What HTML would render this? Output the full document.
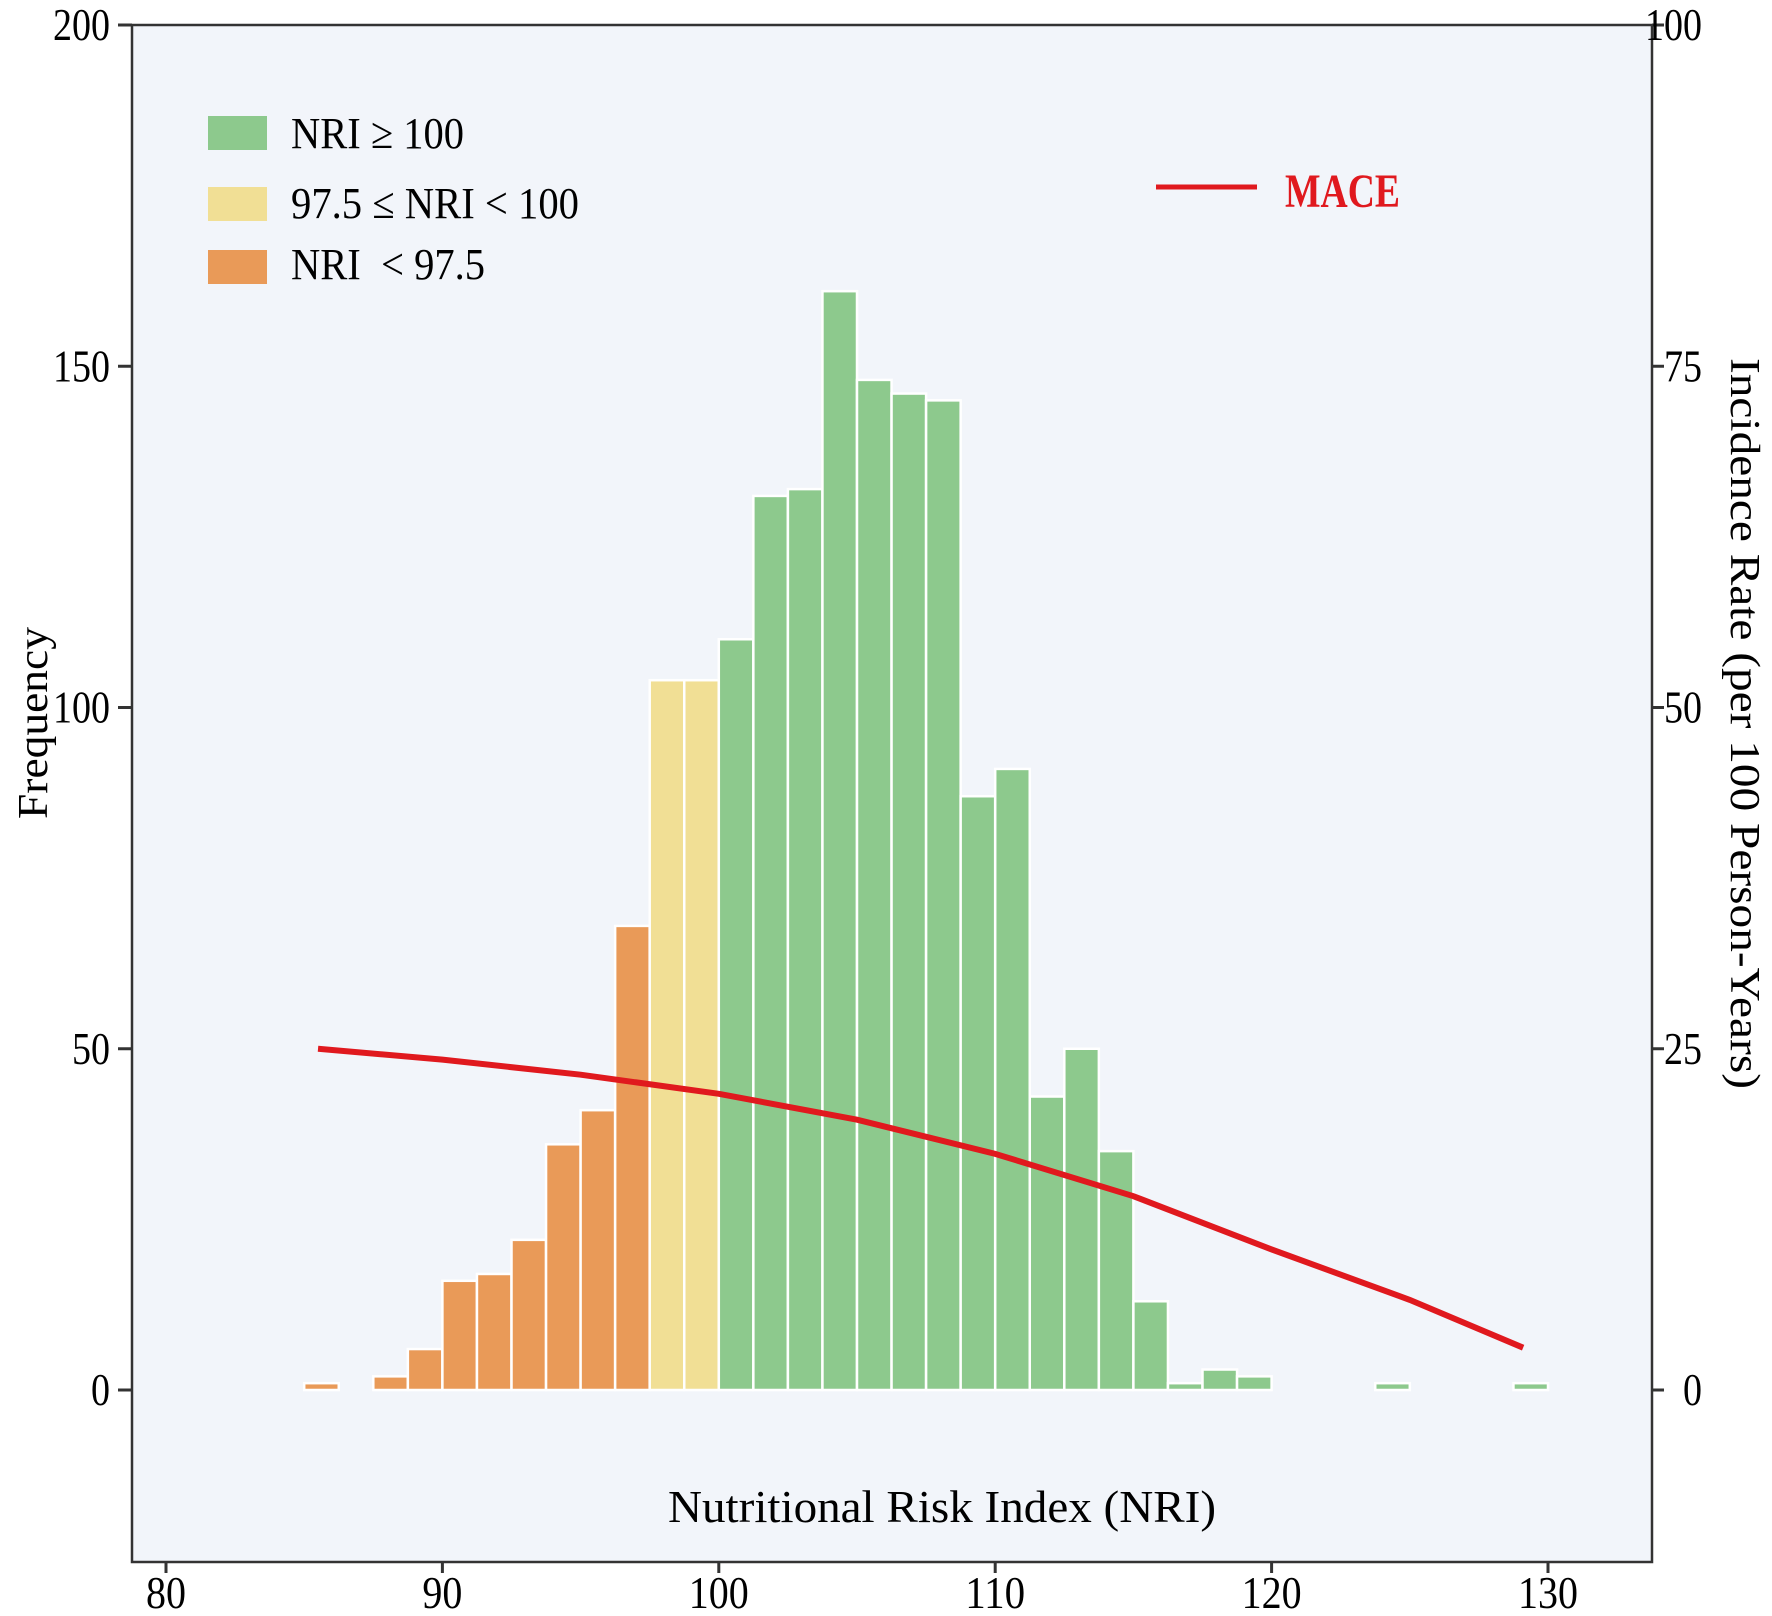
<!DOCTYPE html>
<html><head><meta charset="utf-8"><style>
html,body{margin:0;padding:0;background:#fff;}
svg{display:block;font-family:"Liberation Serif",serif;}
</style></head><body>
<svg id="chart" width="1772" height="1616" viewBox="0 0 1772 1616" xmlns="http://www.w3.org/2000/svg">
<rect x="132" y="25" width="1520" height="1537" fill="#f2f5fa"/>
<g id="bars"></g>
<g id="line"></g>
<g id="axes"></g>
<g>
<rect x="208" y="116" width="59" height="34" fill="#8dc98d"/>
<text x="291" y="148" font-size="44" textLength="173" lengthAdjust="spacingAndGlyphs">NRI ≥ 100</text>
<rect x="208" y="187" width="59" height="34" fill="#f1df95"/>
<text x="291" y="218" font-size="44" textLength="288" lengthAdjust="spacingAndGlyphs">97.5 ≤ NRI &lt; 100</text>
<rect x="208" y="250" width="59" height="34" fill="#e99a58"/>
<text x="291" y="279" font-size="44" textLength="194" lengthAdjust="spacingAndGlyphs">NRI&#160;&#160;&lt; 97.5</text>
<line x1="1156" y1="187" x2="1257" y2="187" stroke="#e0191e" stroke-width="5"/>
<text x="1285" y="207" font-size="48" font-weight="bold" fill="#e0191e" textLength="115" lengthAdjust="spacingAndGlyphs">MACE</text>
</g>
<text x="668" y="1522" font-size="46" textLength="548" lengthAdjust="spacingAndGlyphs">Nutritional Risk Index (NRI)</text>
<text transform="translate(47,819) rotate(-90)" font-size="42" textLength="192" lengthAdjust="spacingAndGlyphs">Frequency</text>
<text transform="translate(1731,358) rotate(90)" font-size="42" textLength="731" lengthAdjust="spacingAndGlyphs">Incidence Rate (per 100 Person-Years)</text>
</svg>
<script>
const binStarts = [85,86.25,87.5,88.75,90,91.25,92.5,93.75,95,96.25,97.5,98.75,100,101.25,102.5,103.75,105,106.25,107.5,108.75,110,111.25,112.5,113.75,115,116.25,117.5,118.75,120,121.25,122.5,123.75,125,126.25,127.5,128.75];
const counts = [1,0,2,6,16,17,22,36,41,68,104,104,110,131,132,161,148,146,145,87,91,43,50,35,13,1,3,2,0,0,0,1,0,0,0,1];
const lineX = [85.5,90,95,100,105,110,115,120,125,129.1];
const lineY = [25,24.2,23.1,21.7,19.8,17.3,14.2,10.3,6.6,3.1];
const xTicks = [80,90,100,110,120,130];
const yTicksLeft = [0,50,100,150,200];
const yTicksRight = [0,25,50,75,100];
const binWidth = 1.25;
const NS = "http://www.w3.org/2000/svg";
const xs = v => 166 + (v - 80) * 27.64;
const yl = v => 1390 - v * 6.825;
const yr = v => 1390 - v * 13.65;
function mk(tag, attrs, parent){const e=document.createElementNS(NS,tag);for(const k in attrs)e.setAttribute(k,attrs[k]);parent.appendChild(e);return e;}
const gb=document.getElementById('bars');
binStarts.forEach((b,i)=>{
  const col = b < 97.5 ? '#e99a58' : (b < 100 ? '#f1df95' : '#8dc98d');
  const r = mk('rect',{x:xs(b),y:yl(counts[i]),width:xs(b+binWidth)-xs(b),height:Math.max(0,yl(0)-yl(counts[i])),fill:col,stroke:'#ffffff','stroke-width':2.5},gb);
  
  
});
const gl=document.getElementById('line');
const p=mk('polyline',{points:lineX.map((x,i)=>xs(x)+','+yr(lineY[i])).join(' '),fill:'none',stroke:'#e0191e','stroke-width':6},gl);


const ga=document.getElementById('axes');
const fr=mk('rect',{x:132,y:25,width:1520,height:1537,fill:'none',stroke:'#333','stroke-width':2.5},ga);


xTicks.forEach(t=>{
  const l=mk('line',{x1:xs(t),y1:1562,x2:xs(t),y2:1573,stroke:'#333','stroke-width':3},ga);
  
  
  const s=String(t);
  const tx=mk('text',{x:xs(t),y:1608,'text-anchor':'middle','font-size':46,textLength:s.length*20,lengthAdjust:'spacingAndGlyphs'},ga);
  tx.textContent=s;
  
  
});
yTicksLeft.forEach(t=>{
  const l=mk('line',{x1:118,y1:yl(t),x2:132,y2:yl(t),stroke:'#333','stroke-width':3},ga);
  
  
  const s=String(t);
  const tx=mk('text',{x:110,y:yl(t)+15,'text-anchor':'end','font-size':46,textLength:s.length*19,lengthAdjust:'spacingAndGlyphs'},ga);
  tx.textContent=s;
  
  
});
yTicksRight.forEach(t=>{
  const l=mk('line',{x1:1652,y1:yr(t),x2:1664,y2:yr(t),stroke:'#333','stroke-width':3},ga);
  
  
  const s=String(t);
  const tx=mk('text',{x:1702,y:yr(t)+15,'text-anchor':'end','font-size':46,textLength:s.length*19,lengthAdjust:'spacingAndGlyphs'},ga);
  tx.textContent=s;
  
  
});
</script>
</body></html>
